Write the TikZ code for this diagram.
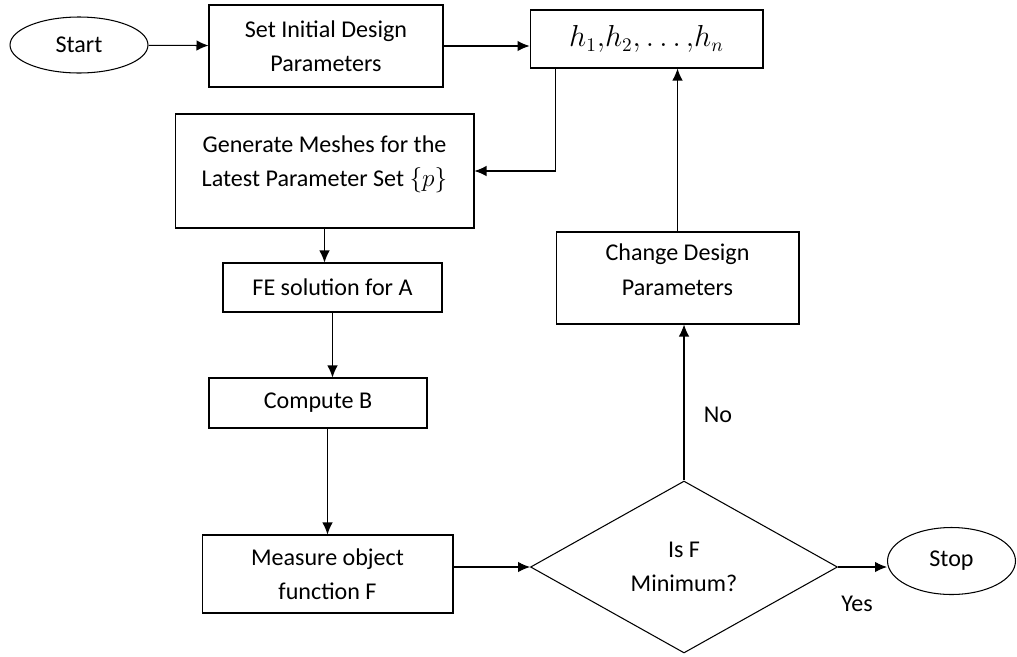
\documentclass[tikz,border=0pt]{standalone}
\usepackage{fontspec}
\setmainfont{Carlito}
\usetikzlibrary{arrows.meta,shapes.geometric}
\tikzset{
    block/.style={
           rectangle,
           draw=black, line width=0.6pt,
           align=center,
           inner sep=3pt,
           text centered,
           font=\fontsize{13.7}{19.5}\selectfont,
           },
    term/.style={
           ellipse,
           draw=black, line width=0.6pt,
           inner sep=0pt,
           font=\fontsize{13.7}{19.5}\selectfont,
           },
    decision/.style={
           diamond,
           draw=black, line width=0.6pt,
           align=center,
           inner sep=0pt,
           font=\fontsize{13.7}{19.5}\selectfont,
           },
}

\begin{document}
\begin{tikzpicture}[->, >={Latex[length=2.4mm,width=2.1mm]}, line width=0.6pt, x=0.02cm, y=-0.02cm]
 \useasboundingbox (0,0) rectangle (1017,656);

 % Top row: start, initial parameters and the parameter set
 \node[term, minimum width=2.76cm, minimum height=1.12cm] (START) at (79,45)
  {Start};
 \node[block, minimum width=4.68cm, minimum height=1.64cm] (INIT) at (326,46)
  {Set Initial Design\\Parameters};
 \node[block, minimum width=4.66cm, minimum height=1.16cm] (HSET) at (646.5,39)
  {\fontsize{16}{19.5}\selectfont $h_1{,}h_2{,}\dots{,}h_n$};

 % Left column, going down
 \node[block, minimum width=5.98cm, minimum height=2.28cm] (MESH) at (324.5,171)
  {Generate Meshes for the\\Latest Parameter Set $\{p\}$\\[-8pt]\mbox{}};
 \node[block, minimum width=4.38cm, minimum height=0.98cm] (FE) at (332.5,287.5)
  {FE solution for A};
 \node[block, minimum width=4.36cm, minimum height=1cm] (COMPB) at (318,403)
  {Compute B};
 \node[block, minimum width=5.02cm, minimum height=1.56cm] (MEAS) at (327.5,574)
  {Measure object\\function F};

 % Right column: test, change and stop
 \node[decision, minimum width=6.14cm, minimum height=3.44cm] (CHK) at (684,567)
  {Is F\\Minimum?};
 \node[block, minimum width=4.86cm, minimum height=1.84cm] (CHG) at (677.5,278)
  {Change Design\\Parameters\\[-10pt]\mbox{}};
 \node[term, minimum width=2.56cm, minimum height=1.34cm] (STOP) at (951.5,561)
  {Stop};

 % answers of the test
 \node[font=\fontsize{13.7}{19.5}\selectfont] (NO) at (718,415) {No};
 \node[font=\fontsize{13.7}{19.5}\selectfont] (YES) at (857,604) {Yes};

 \draw (START) -- (INIT);
 \draw (INIT.east) -- (INIT.east -| HSET.west);
 \draw ([xshift=0.52cm]HSET.south west) |- (MESH.east);
 \draw (MESH.south) -- (MESH.south |- FE.north);
 \draw (FE.south) -- (FE.south |- COMPB.north);
 \draw (MEAS.north |- COMPB.south) -- (MEAS.north);
 \draw (MEAS.east |- CHK.west) -- (CHK.west);
 \draw (CHK.north) -- (CHK.north |- CHG.south);
 \draw (CHG.north) -- (CHG.north |- HSET.south);
 \draw (CHK.east) -- (CHK.east -| STOP.west);
\end{tikzpicture}
\end{document}
